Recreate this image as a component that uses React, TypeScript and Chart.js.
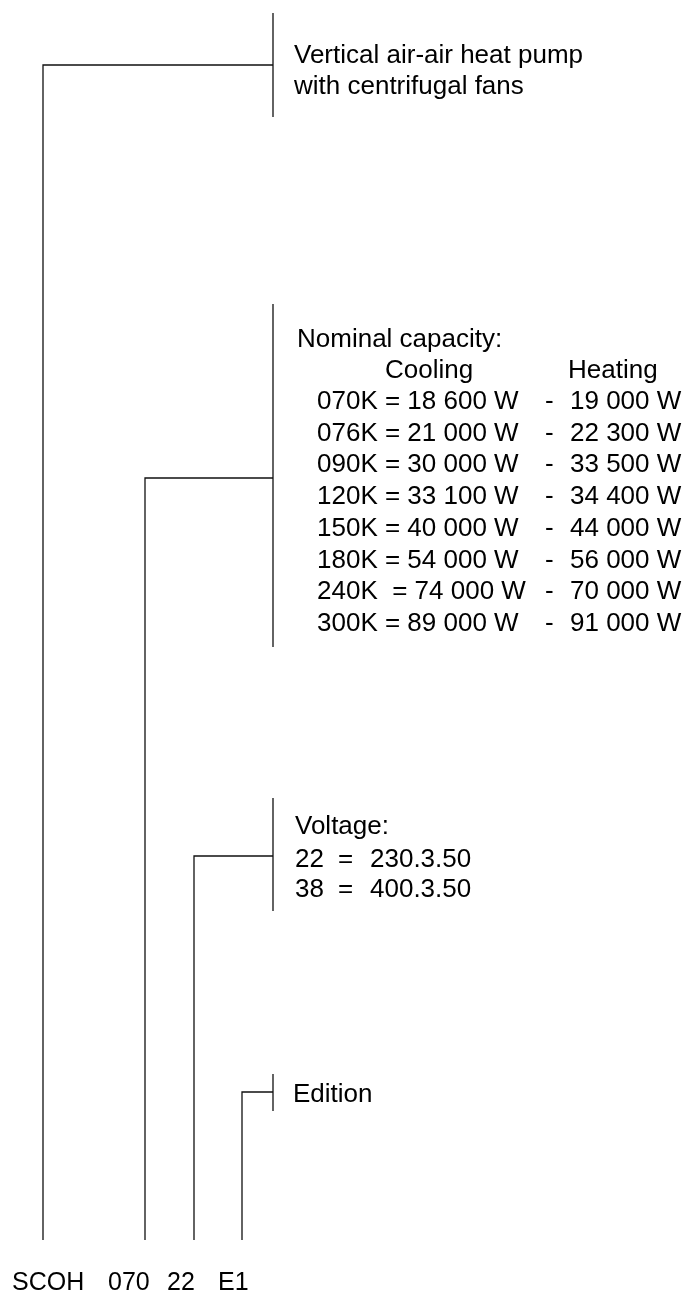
import React, { useEffect, useRef } from "react";
import { Chart, registerables } from "chart.js";

Chart.register(...registerables);

// ---- Data ----
const codeSegments = ["SCOH", "070", "22", "E1"];
const codeLabelX = [12, 108, 167, 218];
const branchX = [43, 145, 194, 242];
const joinY = [65, 478, 856, 1092];
const bracketX = 273;
const bracketTop = [13, 304, 798, 1074];
const bracketBottom = [117, 647, 911, 1111];
const stemBottom = 1240;

const titleLines = ["Vertical air-air heat pump", "with centrifugal fans"];
const capacityHeader = "Nominal capacity:";
const capacityColumns = ["Cooling", "Heating"];
const models = ["070K", "076K", "090K", "120K", "150K", "180K", "240K ", "300K"];
const coolingW = [18600, 21000, 30000, 33100, 40000, 54000, 74000, 89000];
const heatingW = [19000, 22300, 33500, 34400, 44000, 56000, 70000, 91000];
const voltageHeader = "Voltage:";
const voltageCodes = ["22", "38"];
const voltageValues = ["230.3.50", "400.3.50"];
const editionLabel = "Edition";

const W = 684;
const H = 1292;
const FONT = '26px "Liberation Sans", Arial, sans-serif';
const FONT_CODE = '25px "Liberation Sans", Arial, sans-serif';
const INK = "#000";

function fmtW(v: number) {
  const k = Math.floor(v / 1000);
  const r = String(v % 1000).padStart(3, "0");
  return `${k} ${r} W`;
}

export default function App() {
  const ref = useRef<HTMLCanvasElement | null>(null);

  useEffect(() => {
    document.body.style.margin = "0";
    const canvas = ref.current;
    if (!canvas) return;

    const datasets: any[] = [];
    branchX.forEach((bx, i) => {
      datasets.push({
        data: [
          { x: bx, y: stemBottom },
          { x: bx, y: joinY[i] },
          { x: bracketX, y: joinY[i] },
        ],
      });
      datasets.push({
        data: [
          { x: bracketX, y: bracketTop[i] },
          { x: bracketX, y: bracketBottom[i] },
        ],
      });
    });
    datasets.forEach((d) => {
      d.showLine = true;
      d.borderColor = "#111";
      d.borderWidth = 1.3;
      d.pointRadius = 0;
      d.fill = false;
    });

    const textPlugin = {
      id: "diagramText",
      afterDraw(chart: any) {
        const { ctx, scales } = chart;
        const sx = (v: number) => scales.x.getPixelForValue(v);
        const sy = (v: number) => scales.y.getPixelForValue(v);
        ctx.save();
        ctx.font = FONT;
        ctx.fillStyle = INK;
        ctx.textBaseline = "alphabetic";
        ctx.textAlign = "left";
        const t = (s: string, x: number, y: number) => ctx.fillText(s, sx(x), sy(y));

        t(titleLines[0], 294, 63);
        t(titleLines[1], 294, 94);

        t(capacityHeader, 297, 347);
        t(capacityColumns[0], 385, 378);
        t(capacityColumns[1], 568, 378);
        models.forEach((m, i) => {
          const y = 409 + i * 31.7;
          t(`${m} = ${fmtW(coolingW[i])}`, 317, y);
          t("-", 545, y);
          t(fmtW(heatingW[i]), 570, y);
        });

        t(voltageHeader, 295, 834);
        voltageCodes.forEach((c, i) => {
          const y = 867 + i * 30;
          t(c, 295, y);
          t("=", 338, y);
          t(voltageValues[i], 370, y);
        });

        t(editionLabel, 293, 1102);

        ctx.font = FONT_CODE;
        codeSegments.forEach((c, i) => t(c, codeLabelX[i], 1290));
        ctx.restore();
      },
    };

    const chart = new Chart(canvas, {
      type: "scatter",
      data: { datasets },
      options: {
        animation: false,
        responsive: false,
        maintainAspectRatio: false,
        layout: { padding: 0 },
        plugins: { legend: { display: false }, tooltip: { enabled: false } },
        scales: {
          x: { type: "linear", min: 0, max: W, display: false },
          y: { type: "linear", min: 0, max: H, reverse: true, display: false },
        },
      },
      plugins: [textPlugin],
    });
    return () => chart.destroy();
  }, []);

  return (
    <div style={{ position: "absolute", left: 0, top: 0, width: W, height: H, background: "#fff" }}>
      <canvas ref={ref} width={W} height={H} style={{ width: W, height: H, display: "block" }} />
    </div>
  );
}
